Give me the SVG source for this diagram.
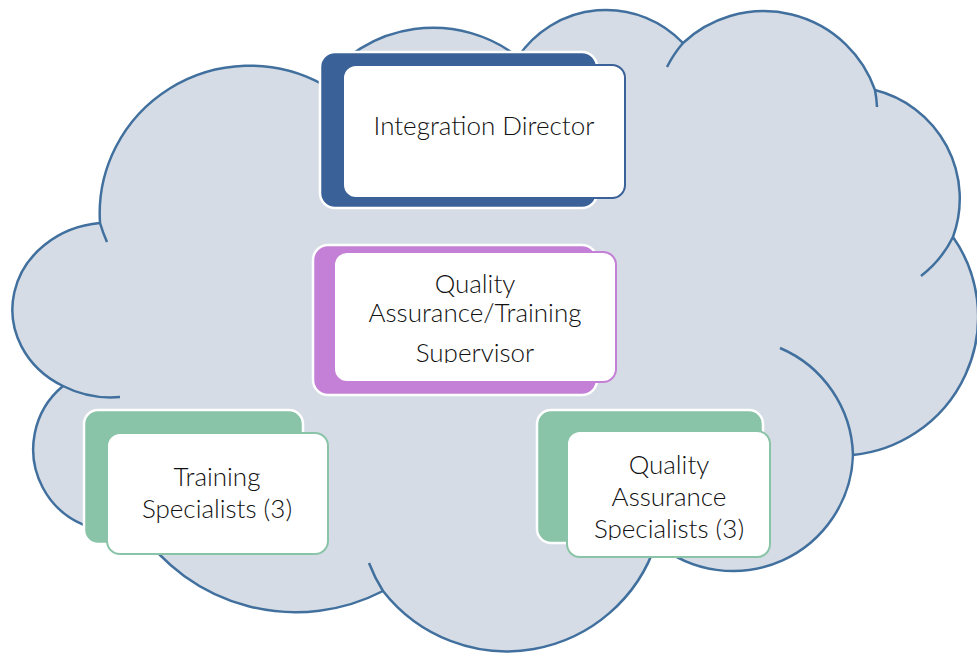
<svg xmlns="http://www.w3.org/2000/svg" width="977" height="653" viewBox="0 0 977 653">
<style>
.cloud{fill:#D5DCE5;stroke:#41709E;stroke-width:2.5;stroke-linejoin:round}
.stub{fill:none;stroke:#41709E;stroke-width:2.5;stroke-linecap:butt}
.back{stroke:#fff;stroke-width:2.5}
.front{fill:#fff;stroke-width:2}
.lbl{font-family:Lato,"Liberation Sans",sans-serif;font-size:26px;font-weight:300;fill:#111;text-anchor:middle}
</style>
<defs>
<clipPath id="clipSup"><rect x="334" y="252" width="282" height="111"/></clipPath>
<clipPath id="clipQA"><rect x="567" y="431" width="203" height="109"/></clipPath>
</defs>
<g id="cloud">
<path class="cloud" d="M100,223 A150,148 0 0 1 322,84 A138,138 0 0 1 518,57 A106,106 0 0 1 683,43 A118,118 0 0 1 875,90 A112,112 0 0 1 953,237 A139,139 0 0 1 853,455 A120,120 0 0 1 656,543 A157,157 0 0 1 383,591 A190,190 0 0 1 138,528 A82,82 0 0 1 63,386 A97,87 0 0 1 100,223 Z"/>
<path class="stub" d="M100,223 A150,148 0 0 0 107,242 M63,386 A97,87 0 0 0 120,397 M683,43 A118,118 0 0 0 667,67 M875,90 A118,118 0 0 1 877,107 M953,237 A112,112 0 0 1 921,276 M853,455 A120,120 0 0 0 780,348 M383,591 A157,157 0 0 1 369,563"/>
</g>
<g id="connectors"/>
<g id="integration-director">
<rect class="back" x="320" y="52" width="277" height="156" rx="15" fill="#3B6298"/>
<rect class="front" x="343" y="65" width="282" height="133" rx="13" stroke="#3B6298"/>
<text class="lbl" x="484" y="135">Integration Director</text>
</g>
<g id="qa-training-supervisor">
<rect class="back" x="313" y="245" width="284" height="150" rx="15" fill="#C480D6"/>
<rect class="front" x="334" y="252" width="282" height="130" rx="13" stroke="#C480D6"/>
<g clip-path="url(#clipSup)">
<text class="lbl" x="475" y="293">Quality</text>
<text class="lbl" x="475" y="322">Assurance/Training</text>
<text class="lbl" x="475" y="362">Supervisor</text>
</g>
</g>
<g id="training-specialists">
<rect class="back" x="84" y="410" width="219" height="134" rx="14" fill="#8AC4A8"/>
<rect class="front" x="107" y="433" width="221" height="121" rx="13" stroke="#8AC4A8" stroke-width="2.5"/>
<text class="lbl" x="217" y="486">Training</text>
<text class="lbl" x="217" y="518">Specialists (3)</text>
</g>
<g id="qa-specialists">
<rect class="back" x="537" y="410" width="226" height="133" rx="14" fill="#8AC4A8"/>
<rect class="front" x="567" y="431" width="203" height="126" rx="13" stroke="#8AC4A8" stroke-width="2.5"/>
<g clip-path="url(#clipQA)">
<text class="lbl" x="669" y="474">Quality</text>
<text class="lbl" x="669" y="506">Assurance</text>
<text class="lbl" x="669" y="538">Specialists (3)</text>
</g>
</g>
</svg>
